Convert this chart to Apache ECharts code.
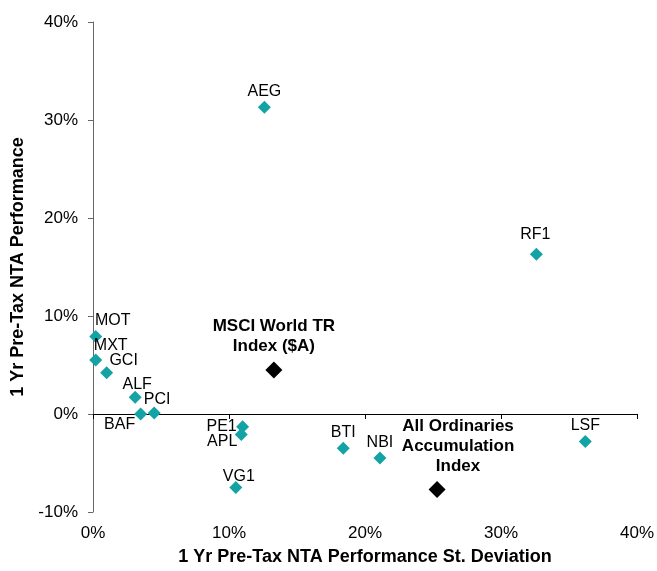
<!DOCTYPE html>
<html>
<head>
<meta charset="utf-8">
<script src="https://cdn.jsdelivr.net/npm/echarts@6/dist/echarts.min.js"></script>
<style>
html,body{margin:0;padding:0;background:#fff;width:100%;height:100%;overflow:hidden;}
#chart{width:657px;height:571px;}
</style>
</head>
<body>
<div id="chart"></div>
<script>
// Fund data: 1Yr NTA performance st. deviation (%) and 1Yr NTA performance (%)
var fundNames = ['AEG','RF1','MOT','MXT','GCI','ALF','BAF','PCI','PE1','APL','VG1','BTI','NBI','LSF'];
var fundStdDev = [12.6, 32.6, 0.2, 0.2, 1.0, 3.1, 3.5, 4.5, 11.0, 10.9, 10.5, 18.4, 21.1, 36.2];
var fundPerf   = [31.3, 16.3, 7.9, 5.5, 4.2, 1.7, 0.0, 0.1, -1.3, -2.1, -7.5, -3.5, -4.5, -2.8];

// Benchmark indices
var indexNames = ['MSCI World TR\nIndex ($A)', 'All Ordinaries\nAccumulation\nIndex'];
var indexStdDev = [13.3, 25.3];
var indexPerf   = [4.5, -7.7];

// Axis ticks
var xTicks = [0, 10, 20, 30, 40];
var yTicks = [-10, 0, 10, 20, 30, 40];

// Label placement (style only): offset of label centre from the marker
var labelOffsets = {
  'AEG':[0,-16], 'RF1':[-1,-20], 'MOT':[17,-16], 'MXT':[15,-15], 'GCI':[17,-12],
  'ALF':[2,-13], 'BAF':[-21,11], 'PCI':[3,-13], 'PE1':[-21,0], 'APL':[-19,7],
  'VG1':[3,-11], 'BTI':[0,-16], 'NBI':[0,-16], 'LSF':[0,-16]
};
var indexLabelOffsets = [[0,-34],[21,-43]];

var FONT = 'Liberation Sans, Arial, sans-serif';
var TEAL = '#14A3A5';

var fundData = fundNames.map(function(n,i){
  return {name:n, value:[fundStdDev[i], fundPerf[i]],
    label:{offset: labelOffsets[n]}};
});
var indexData = indexNames.map(function(n,i){
  return {name:n, value:[indexStdDev[i], indexPerf[i]],
    label:{offset: indexLabelOffsets[i]}};
});

var chart = echarts.init(document.getElementById('chart'), null, {renderer:'canvas'});
chart.setOption({
  animation:false,
  backgroundColor:'#fff',
  grid:{left:93, right:20, top:22, bottom:55, containLabel:false},
  xAxis:[{
    type:'value', min:xTicks[0], max:xTicks[xTicks.length-1], interval:10,
    position:'bottom',
    axisLine:{show:false, onZero:false},
    axisTick:{show:false},
    splitLine:{show:false},
    axisLabel:{formatter:'{value}%', color:'#000', fontFamily:FONT, fontSize:17, margin:13},
    name:'1 Yr Pre-Tax NTA Performance St. Deviation',
    nameLocation:'middle', nameGap:36,
    nameTextStyle:{color:'#000', fontFamily:FONT, fontSize:18, fontWeight:'bold'}
  },{
    type:'value', min:xTicks[0], max:xTicks[xTicks.length-1], interval:10,
    position:'bottom',
    axisLine:{show:true, onZero:true, lineStyle:{color:'#000', width:1}},
    axisTick:{show:true, length:5, lineStyle:{color:'#000'}},
    axisLabel:{show:false},
    splitLine:{show:false}
  }],
  yAxis:{
    type:'value', min:yTicks[0], max:yTicks[yTicks.length-1], interval:10,
    axisLine:{show:true, onZero:false, lineStyle:{color:'#666', width:1}},
    axisTick:{show:true, length:5, lineStyle:{color:'#666'}},
    splitLine:{show:false},
    axisLabel:{formatter:'{value}%', color:'#000', fontFamily:FONT, fontSize:17, margin:15},
    name:'1 Yr Pre-Tax NTA Performance',
    nameLocation:'middle', nameGap:63, nameRotate:90,
    nameTextStyle:{color:'#000', fontFamily:FONT, fontSize:18, fontWeight:'bold'}
  },
  series:[{
    type:'scatter', xAxisIndex:0, yAxisIndex:0,
    symbol:'diamond', symbolSize:13,
    itemStyle:{color:TEAL, opacity:1},
    label:{show:true, position:'inside', formatter:'{b}', color:'#000',
      fontFamily:FONT, fontSize:16, align:'center', verticalAlign:'middle'},
    data:fundData
  },{
    type:'scatter', xAxisIndex:0, yAxisIndex:0,
    symbol:'diamond', symbolSize:17,
    itemStyle:{color:'#000', opacity:1},
    label:{show:true, position:'inside', formatter:'{b}', color:'#000',
      fontFamily:FONT, fontSize:17, fontWeight:'bold', lineHeight:20,
      align:'center', verticalAlign:'middle'},
    data:indexData
  }]
});
</script>
</body>
</html>
